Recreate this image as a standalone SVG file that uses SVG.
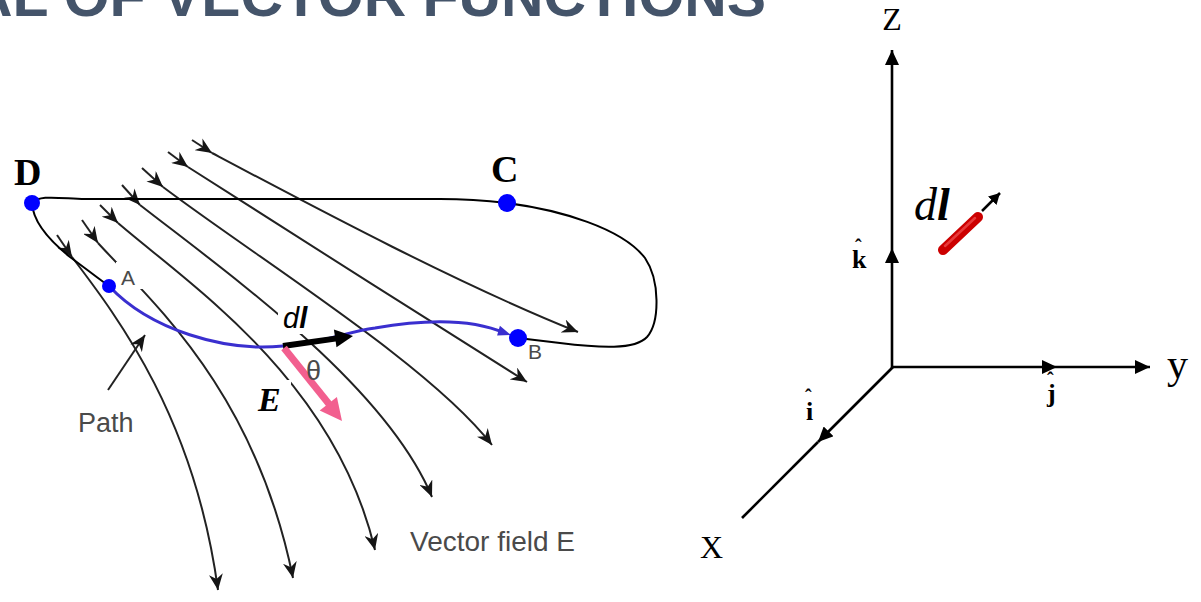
<svg xmlns="http://www.w3.org/2000/svg" width="1201" height="602" viewBox="0 0 1201 602">
<style>
.fl{fill:none;stroke:#222;stroke-width:2}
.lbl{font-family:"Liberation Sans",Arial,sans-serif;fill:#4a4a4a}
.ser{font-family:"Liberation Serif","Times New Roman",serif;fill:#000}
.ax{fill:none;stroke:#000;stroke-width:2.6}
.pt{fill:#0000ff}
</style>
<defs>
<marker id="fa" markerUnits="userSpaceOnUse" markerWidth="18" markerHeight="14" refX="16" refY="7" orient="auto"><path d="M0,0 L16,7 L0,14 L5,7 z" fill="#151515"/></marker>
<marker id="axa" markerUnits="userSpaceOnUse" markerWidth="16" markerHeight="14" refX="15" refY="7" orient="auto"><path d="M0,0 L15,7 L0,14 z" fill="#000"/></marker>
<marker id="sa" markerUnits="userSpaceOnUse" markerWidth="12" markerHeight="12" refX="11" refY="6" orient="auto"><path d="M0,0 L11,6 L0,12 z" fill="#000"/></marker>
</defs>
<rect width="1201" height="602" fill="#fff"/>
<text id="title" x="-30" y="16" font-family="Liberation Sans,Arial,sans-serif" font-weight="bold" font-size="58" fill="#44546A" textLength="796" lengthAdjust="spacingAndGlyphs">AL OF VECTOR FUNCTIONS</text>

<g id="field-lines">
<path class="fl" d="M192,140 L212,153" marker-end="url(#fa)"/>
<path class="fl" d="M212,153 C310,205 460,285 578,332" marker-end="url(#fa)"/>
<path class="fl" d="M168,152 L188,167" marker-end="url(#fa)"/>
<path class="fl" d="M188,167 C290,232 420,315 527,382" marker-end="url(#fa)"/>
<path class="fl" d="M142,168 L163,187" marker-end="url(#fa)"/>
<path class="fl" d="M163,187 C260,260 430,365 492,445" marker-end="url(#fa)"/>
<path class="fl" d="M122,185 L140,205" marker-end="url(#fa)"/>
<path class="fl" d="M140,205 C230,275 385,385 432,497" marker-end="url(#fa)"/>
<path class="fl" d="M100,205 L118,223" marker-end="url(#fa)"/>
<path class="fl" d="M118,223 C190,285 335,380 375,550" marker-end="url(#fa)"/>
<path class="fl" d="M82,220 L98,243" marker-end="url(#fa)"/>
<path class="fl" d="M98,243 C150,300 255,390 293,578" marker-end="url(#fa)"/>
<path class="fl" d="M57,235 L72,257" marker-end="url(#fa)"/>
<path class="fl" d="M72,257 C120,320 195,420 218,590" marker-end="url(#fa)"/>
<path class="fl" d="M108,390 L145,335" stroke-width="1.6" marker-end="url(#fa)"/>
</g>

<g id="label-backgrounds" fill="#fff">
<rect x="116" y="262" width="30" height="27"/>
<rect x="278" y="300" width="42" height="34"/>
<rect x="253" y="380" width="38" height="38"/>
</g>

<g id="connectors">
<path id="loop-DA" d="M32,203 C33,225 55,245 70,257 C85,268 100,280 109,286" fill="none" stroke="#000" stroke-width="2"/>
<path id="loop-DCB" d="M32,203 C40,195 55,198 85,199 L440,199 C470,199 490,201 507,203 C560,210 622,228 645,258 C660,280 660,322 647,337 C635,350 600,348 560,343 L518,338" fill="none" stroke="#000" stroke-width="2"/>
<path id="path-AB" d="M109,286 C150,330 225,352 283,346 C330,342 345,332 375,328 C420,320 470,318 505,333" fill="none" stroke="#3a2fcf" stroke-width="3"/>
<polygon points="511,335 497.1,335.4 499.9,325.8" fill="#3a2fcf"/>
<g id="vec-dl">
<line x1="283" y1="346" x2="337" y2="338.4" stroke="#000" stroke-width="6"/>
<polygon points="353,336 336.5,347.3 333.9,329.5" fill="#000"/>
</g>
<g id="vec-E">
<line x1="284" y1="348" x2="329" y2="404" stroke="#f25f8f" stroke-width="7"/>
<polygon points="342,421 319.7,410.6 336.9,397" fill="#f25f8f"/>
</g>
</g>

<g id="node-D"><circle class="pt" cx="32" cy="203" r="8"/><text class="ser" x="14" y="185" font-size="38" font-weight="bold">D</text></g>
<g id="node-C"><circle class="pt" cx="507" cy="203" r="9"/><text class="ser" x="491" y="182" font-size="38" font-weight="bold">C</text></g>
<g id="node-A"><circle class="pt" cx="109" cy="286" r="7"/><text class="lbl" x="121" y="285" font-size="21">A</text></g>
<g id="node-B"><circle class="pt" cx="518" cy="338" r="9"/><text class="lbl" x="528" y="359" font-size="21">B</text></g>

<g id="labels-left">
<text x="283" y="328" font-family="Liberation Sans,Arial,sans-serif" font-size="29" font-style="italic" fill="#000">d<tspan font-weight="bold">l</tspan></text>
<text class="ser" x="258" y="411" font-size="34" font-weight="bold" font-style="italic">E</text>
<text class="lbl" x="306" y="380" font-size="27">θ</text>
<text class="lbl" x="78" y="432" font-size="27">Path</text>
<text class="lbl" x="410" y="551" font-size="28">Vector field E</text>
</g>

<g id="axes">
<path class="ax" d="M892,368 L892,248" marker-end="url(#axa)"/>
<path class="ax" d="M892,248 L892,50" stroke-width="2.2" marker-end="url(#axa)"/>
<path class="ax" d="M891,367 L1057,367" marker-end="url(#axa)"/>
<path class="ax" d="M1057,367 L1150,367" stroke-width="2.2" marker-end="url(#axa)"/>
<path class="ax" d="M893,367 L818,442" marker-end="url(#axa)"/>
<path class="ax" d="M818,442 L742,518" stroke-width="2"/>
</g>

<g id="axis-labels">
<text class="ser" x="892" y="30" font-size="32" text-anchor="middle">Z</text>
<text class="ser" x="1167" y="378" font-size="42">y</text>
<text class="ser" x="700" y="558" font-size="32">X</text>
<text class="ser" x="852" y="268" font-size="26" font-weight="bold">k<tspan x="855" y="254" font-size="20">ˆ</tspan></text>
<text class="ser" x="806" y="420" font-size="26" font-weight="bold">i<tspan x="805" y="404" font-size="20">ˆ</tspan></text>
<text class="ser" x="1047" y="402" font-size="26" font-weight="bold">j<tspan x="1047" y="387" font-size="20">ˆ</tspan></text>
</g>

<g id="dl-element">
<text class="ser" x="914" y="220" font-size="46" font-style="italic">d<tspan font-weight="bold">l</tspan></text>
<line x1="943" y1="250" x2="978" y2="217" stroke="#cc0000" stroke-width="10" stroke-linecap="round"/>
<line x1="945" y1="246" x2="975" y2="218" stroke="#e83a3a" stroke-width="2.5" stroke-linecap="round"/>
<line x1="982" y1="211" x2="1000" y2="193" stroke="#000" stroke-width="2.5" marker-end="url(#sa)"/>
</g>
</svg>
